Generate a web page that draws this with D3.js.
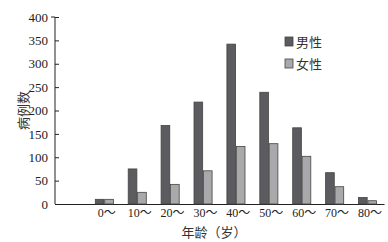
<!DOCTYPE html>
<html>
<head>
<meta charset="utf-8">
<script src="https://cdn.jsdelivr.net/npm/d3@7"></script>
<style>
    body { margin: 0; background: #fff; }
    text { font-family: "Liberation Serif", "Noto Sans CJK SC", serif; }
</style>
</head>
<body>
<div id="chart"></div>
<script>
// categories (first slot is left empty in the original figure)
const ageGroups = ["", "0～", "10～", "20～", "30～", "40～", "50～", "60～", "70～", "80～"];
const maleCases = [null, 10, 75, 168, 218, 342, 239, 163, 67, 14];
const femaleCases = [null, 10, 25, 42, 71, 123, 129, 102, 37, 7];
const yTicks = [0, 50, 100, 150, 200, 250, 300, 350, 400];
const seriesNames = ["男性", "女性"];
const seriesColours = ["#5b5b60", "#a9a9ab"];

const width = 388, height = 242;
const margin = {top: 17, right: 4, bottom: 38, left: 55};

const svg = d3.select("#chart")
    .append("svg")
    .attr("width", width)
    .attr("height", height);

// Scales
const x = d3.scaleBand()
    .domain(ageGroups)
    .range([margin.left, width - margin.right])
    .paddingInner(0.45)
    .paddingOuter(0.225);

const sub = d3.scaleBand()
    .domain(seriesNames)
    .range([0, x.bandwidth()])
    .paddingInner(0.08);

const y = d3.scaleLinear()
    .domain([0, 400])
    .range([height - margin.bottom, margin.top]);

// Y axis, ticks pointing inwards
const yAxis = svg.append("g")
    .attr("transform", `translate(${margin.left},0)`)
    .call(d3.axisLeft(y).tickValues(yTicks).tickSize(-4).tickPadding(7));
yAxis.select(".domain").attr("stroke", "#222").attr("d", `M-4,${y(400)}H0V${y(0)}`);
yAxis.selectAll(".tick line").attr("stroke", "#222");
yAxis.selectAll("text").style("font-size", "13px").attr("fill", "#222");

// X axis, no tick marks
const xAxis = svg.append("g")
    .attr("transform", `translate(0,${y(0)})`)
    .call(d3.axisBottom(x).tickSize(0).tickPadding(4));
xAxis.select(".domain").attr("stroke", "#222").attr("stroke-width", 1.2);
xAxis.selectAll("text")
    .style("font-size", "12px")
    .attr("fill", "#222")
    .attr("dx", "0.2em");

// Bars
const rows = ageGroups.map((g, i) => ({group: g, values: [maleCases[i], femaleCases[i]]}))
    .filter(d => d.values[0] !== null);

const groups = svg.selectAll(".grp")
    .data(rows)
    .join("g")
    .attr("class", "grp")
    .attr("transform", d => `translate(${x(d.group)},0)`);

groups.selectAll("rect")
    .data(d => d.values.map((v, k) => ({name: seriesNames[k], value: v, k: k})))
    .join("rect")
    .attr("x", d => sub(d.name))
    .attr("y", d => y(d.value))
    .attr("width", sub.bandwidth())
    .attr("height", d => y(0) - y(d.value))
    .attr("fill", d => seriesColours[d.k])
    .attr("stroke", "#444")
    .attr("stroke-width", 0.8);

// Axis titles
svg.append("text")
    .attr("transform", `translate(23,${(margin.top + y(0)) / 2}) rotate(-90)`)
    .attr("text-anchor", "middle")
    .attr("dy", "0.35em")
    .style("font-size", "13px")
    .style("font-family", "'Noto Sans CJK SC', sans-serif")
    .attr("fill", "#333")
    .text("病例数");

svg.append("text")
    .attr("x", 214)
    .attr("y", 237)
    .attr("text-anchor", "middle")
    .style("font-size", "13px")
    .style("font-family", "'Noto Sans CJK SC', sans-serif")
    .attr("fill", "#333")
    .text("年龄（岁）");

// Legend
const legend = svg.selectAll(".legend")
    .data(seriesNames)
    .join("g")
    .attr("class", "legend")
    .attr("transform", (d, i) => `translate(285,${37 + i * 22})`);

legend.append("rect")
    .attr("width", 8)
    .attr("height", 9)
    .attr("fill", (d, i) => seriesColours[i])
    .attr("stroke", "#444")
    .attr("stroke-width", 0.8);

legend.append("text")
    .attr("x", 11)
    .attr("y", 5)
    .attr("dy", "0.35em")
    .style("font-size", "13px")
    .style("font-family", "'Noto Sans CJK SC', sans-serif")
    .attr("fill", "#333")
    .text(d => d);
</script>
</body>
</html>
